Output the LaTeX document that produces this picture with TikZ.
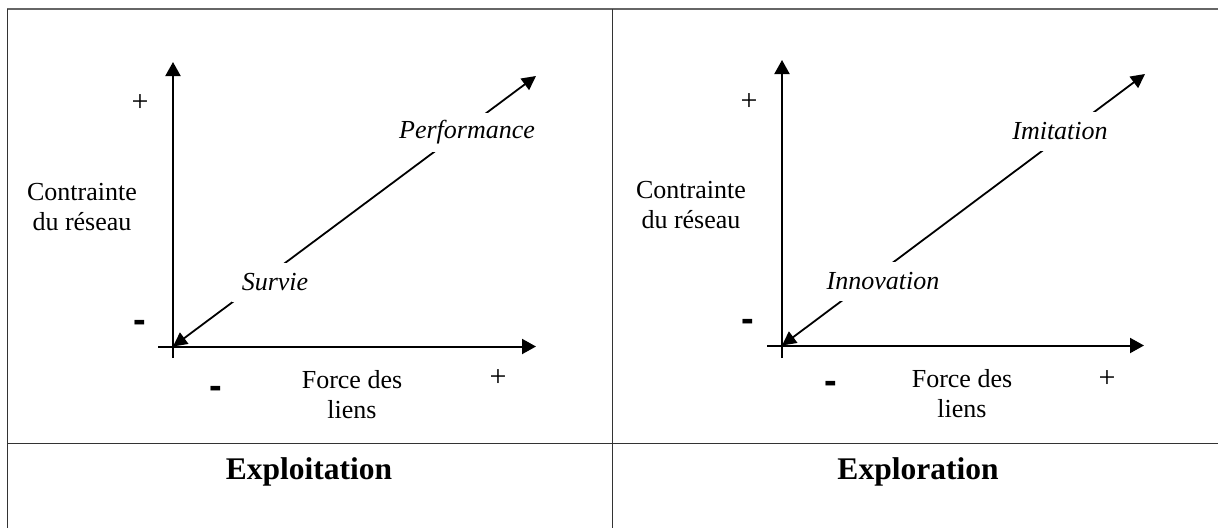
\documentclass[tikz,border=0pt]{standalone}
\usepackage{fontspec}
\setmainfont{Liberation Serif}
\newfontfamily\sansfnt{Liberation Sans}
\usetikzlibrary{arrows.meta}
\begin{document}
\begin{tikzpicture}[x=1pt,y=-1pt,
  axis/.style={line width=2pt, -{Triangle[length=14pt,width=15pt]}},
  diag/.style={line width=1.8pt, {Triangle[length=14pt,width=14pt]}-{Triangle[length=14pt,width=14pt]}},
  lbl/.style={font=\fontsize{26}{30}\selectfont, inner sep=0pt, align=center},
  plus/.style={font=\fontsize{30}{32}\selectfont, inner sep=0pt},
  ital/.style={font=\fontsize{26}{30}\selectfont\itshape, fill=white, inner xsep=10pt, inner ysep=0pt, minimum height=39pt},
  minus/.style={font=\fontsize{38}{40}\sansfnt\bfseries, inner sep=0pt, anchor=base},
  ttl/.style={font=\fontsize{31.5}{36}\selectfont\bfseries, inner sep=0pt},
  frame/.style={line width=1pt, black!80},
  topframe/.style={line width=1.4pt, black!60}]
\useasboundingbox (0,0) rectangle (1218,528);
% table frame
\coordinate (tl) at (7,9);
\coordinate (tr) at (1218,9);
\coordinate (bl) at (7,528);
\coordinate (tm) at (612,9);
\coordinate (bm) at (612,528);
\coordinate (ml) at (7,443);
\coordinate (mr) at (1218,443);
\draw[topframe] (tl) -- (tr);
\draw[frame] (tl) -- (bl);
\draw[frame] (tm) -- (bm);
\draw[frame] (ml) -- (mr);

% ---------- left panel ----------
\coordinate (L0) at (173,346.5);
\coordinate (Lytop) at (173,62);
\coordinate (Lybot) at (173,358);
\coordinate (Lxl) at (158,346.5);
\coordinate (Lxr) at (536,346.5);
\coordinate (Ltip) at (536,76);
\draw[axis] (Lybot) -- (Lytop);
\draw[axis] (Lxl) -- (Lxr);
\draw[diag] (L0) -- (Ltip);
\node[ital] (perf) at (467,132.5) {Performance};
\node[ital] (surv) at (275,282) {Survie};
\node[plus] (Lplusy) at (140,103) {+};
\node[lbl] (Lcontr) at (82,207) {Contrainte\\du réseau};
\node[minus] (Lminy) at (140,332) {-};
\node[minus] (Lminx) at (216,398) {-};
\node[lbl] (Lforce) at (352,395) {Force des\\liens};
\node[plus] (Lplusx) at (498,378) {+};
\node[ttl] (expl) at (309,472) {Exploitation};

% ---------- right panel ----------
\coordinate (R0) at (782,345.5);
\coordinate (Rytop) at (782,60);
\coordinate (Rybot) at (782,358);
\coordinate (Rxl) at (767,345.5);
\coordinate (Rxr) at (1144,345.5);
\coordinate (Rtip) at (1145,74);
\draw[axis] (Rybot) -- (Rytop);
\draw[axis] (Rxl) -- (Rxr);
\draw[diag] (R0) -- (Rtip);
\node[ital] (imit) at (1060,131) {Imitation};
\node[ital] (innov) at (883,281) {Innovation};
\node[plus] (Rplusy) at (749,102) {+};
\node[lbl] (Rcontr) at (691,205) {Contrainte\\du réseau};
\node[minus] (Rminy) at (748,331) {-};
\node[minus] (Rminx) at (831,393) {-};
\node[lbl] (Rforce) at (962,394) {Force des\\liens};
\node[plus] (Rplusx) at (1107,379) {+};
\node[ttl] (explo) at (918,472) {Exploration};
\end{tikzpicture}
\end{document}
